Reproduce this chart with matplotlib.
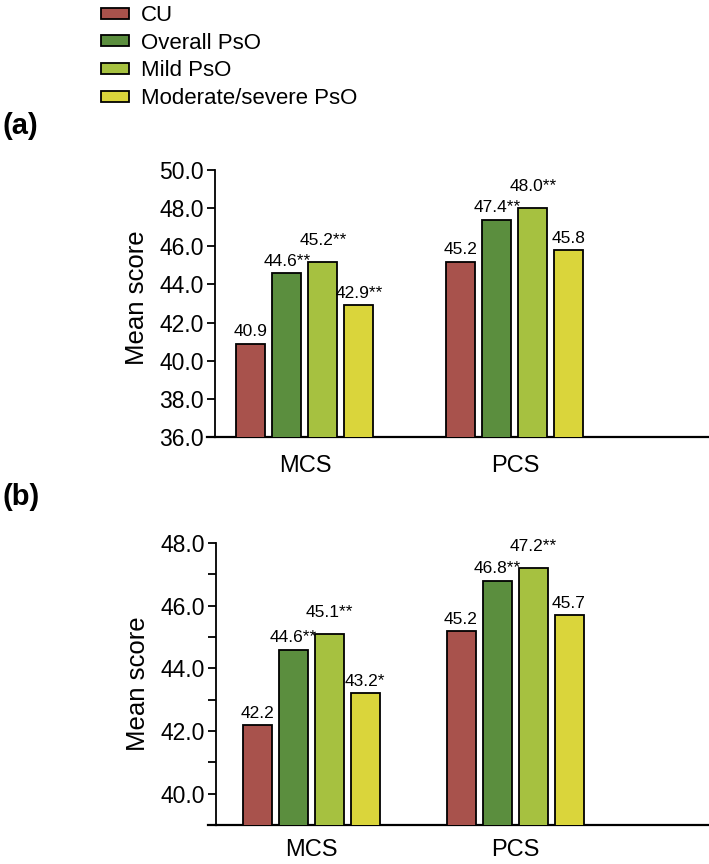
import numpy as np
import matplotlib
matplotlib.use("Agg")
import matplotlib.pyplot as plt
from matplotlib.patches import Patch

plt.rcParams['font.family'] = ['Liberation Sans', 'DejaVu Sans']

groups = ["MCS", "PCS"]
series = ["CU", "Overall PsO", "Mild PsO", "Moderate/severe PsO"]

# panel (a)
vals_a = [[40.9, 45.2], [44.6, 47.4], [45.2, 48.0], [42.9, 45.8]]
sig_a = [["", ""], ["**", "**"], ["**", "**"], ["**", ""]]
# panel (b)
vals_b = [[42.2, 45.2], [44.6, 46.8], [45.1, 47.2], [43.2, 45.7]]
sig_b = [["", ""], ["**", "**"], ["**", "**"], ["*", ""]]

colors = ["#A8524C", "#5B8E3E", "#A6C140", "#DAD53B"]
label_off = [3, 3, 10, 3]

fig = plt.figure(figsize=(7.09, 8.64), dpi=100)
W, H = 709, 864


def panel(rect, vals, sig, ylim, yticks, minor, xlim, pitch, width, pad, ly):
    ax = fig.add_axes(rect)
    x = np.arange(len(groups))
    for i, s in enumerate(series):
        xs = x + (i - 1.5) * pitch
        ax.bar(xs, vals[i], width, bottom=0, color=colors[i],
               edgecolor="black", linewidth=1.3, zorder=3)
        for j in range(len(groups)):
            ax.annotate("%.1f%s" % (vals[i][j], sig[i][j]), (xs[j], vals[i][j]),
                        xytext=(0, label_off[i]), textcoords="offset points",
                        ha="center", va="bottom", fontsize=12.5)
    ax.set_ylim(*ylim)
    ax.set_xlim(*xlim)
    ax.set_yticks(yticks)
    ax.set_yticklabels(["%.1f" % t for t in yticks])
    if minor:
        ax.set_yticks(minor, minor=True)
    ax.set_xticks(x)
    ax.set_xticklabels(groups, fontsize=17)
    ax.tick_params(axis="x", length=0, pad=pad)
    ax.tick_params(axis="y", which="both", length=6, width=1.3, labelsize=16.5, pad=2)
    for k in ["top", "right"]:
        ax.spines[k].set_visible(False)
    ax.spines["left"].set_linewidth(1.3)
    ax.spines["bottom"].set_linewidth(1.6)
    ax.plot([-8 / (rect[2] * W), 0], [0, 0], transform=ax.transAxes,
            color="black", lw=1.6, clip_on=False)
    ax.set_ylabel("Mean score", fontsize=18.5)
    ax.yaxis.set_label_coords(-66 / (rect[2] * W), ly)
    return ax


ax_a = panel([215 / W, 1 - 437 / H, 494 / W, 267 / H], vals_a, sig_a,
             (36, 50), np.arange(36, 51, 2), None,
             (-90 / 210, 404 / 210), 36 / 210, 29 / 210, 13, 0.52)
ax_b = panel([216 / W, 1 - 825 / H, 493 / W, 282 / H], vals_b, sig_b,
             (39, 48), np.arange(40, 49, 2), [41, 43, 45, 47],
             (-95 / 204, 398 / 204), 36 / 204, 29 / 204, 10, 0.5)

fig.text(2 / W, 1 - 126 / H, "(a)", fontsize=21, fontweight="bold", va="center", ha="left")
fig.text(2 / W, 1 - 497 / H, "(b)", fontsize=21, fontweight="bold", va="center", ha="left")

handles = [Patch(facecolor=c, edgecolor="black", linewidth=1.3) for c in colors]
fig.legend(handles, series, loc="upper left", bbox_to_anchor=(101 / W, 1 - 5 / H),
           frameon=False, fontsize=16, handlelength=1.25, handleheight=0.38,
           handletextpad=0.55, labelspacing=0.3, borderpad=0, borderaxespad=0)

fig.savefig("out.png", dpi=100)
